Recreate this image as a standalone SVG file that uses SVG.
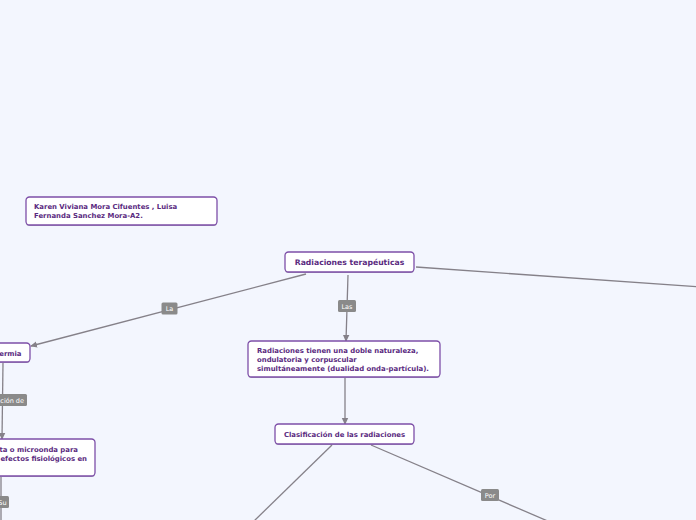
<svg xmlns="http://www.w3.org/2000/svg" width="696" height="520" viewBox="0 0 696 520">
<defs>
<marker id="arr" markerWidth="8" markerHeight="8" refX="6" refY="4" orient="auto" markerUnits="userSpaceOnUse"><path d="M0,0.8 L7,4 L0,7.2 Z" fill="#858189"/></marker>
</defs>
<style>
.bg{fill:#f3f6fe}
.box{fill:#ffffff;stroke:#7d4fa8;stroke-width:1.3}
.sh{fill:#5d4a6e;opacity:0.45}
.t{font-family:"DejaVu Sans",Verdana,sans-serif;font-weight:bold;font-size:6.9px;fill:#5a2a80}
.tr{font-family:"DejaVu Sans",Verdana,sans-serif;font-weight:bold;font-size:7.7px;fill:#5a2a80}
.ln{stroke:#858189;stroke-width:1.3;fill:none}
.lb{fill:#8a8a8a}
.lt{font-family:"DejaVu Sans",Verdana,sans-serif;font-size:6.5px;fill:#ffffff}
</style>
<rect class="bg" x="0" y="0" width="696" height="520"/>
<g id="connectors">
<path class="ln" d="M306,274 L31,346" marker-end="url(#arr)"/>
<path class="ln" d="M348,275 L346,341" marker-end="url(#arr)"/>
<path class="ln" d="M416,267 L700,287"/>
<path class="ln" d="M345,378 L345,424" marker-end="url(#arr)"/>
<path class="ln" d="M3,363 L2,439" marker-end="url(#arr)"/>
<path class="ln" d="M1,477 L1,520"/>
<path class="ln" d="M332,445 L253,522"/>
<path class="ln" d="M371,445 L550,522"/>
<rect class="lb" x="161.5" y="302.5" width="16" height="12" rx="1.5"/>
<text class="lt" x="169.5" y="311" text-anchor="middle">La</text>
<rect class="lb" x="338" y="300" width="18" height="12" rx="1.5"/>
<text class="lt" x="347" y="308.5" text-anchor="middle">Las</text>
<rect class="lb" x="-20" y="394" width="47" height="12" rx="1.5"/>
<text class="lt" x="24" y="402.5" text-anchor="end">Aplicación de</text>
<rect class="lb" x="-10" y="496" width="19" height="12" rx="1.5"/>
<text class="lt" x="6.5" y="504.5" text-anchor="end">Su</text>
<rect class="lb" x="481" y="489" width="18" height="12" rx="1.5"/>
<text class="lt" x="490" y="497.5" text-anchor="middle">Por</text>
</g>
<g id="autores">
<rect class="sh" x="26" y="198" width="191" height="28" rx="3.5"/>
<rect class="box" x="26" y="197" width="191" height="28" rx="3.5"/>
<text class="t" x="34" y="208.5">Karen Viviana Mora Cifuentes , Luisa</text>
<text class="t" x="34" y="217.5">Fernanda Sanchez Mora-A2.</text>
</g>
<g id="raiz">
<rect class="sh" x="285" y="253" width="129" height="20" rx="3.5"/>
<rect class="box" x="285" y="252" width="129" height="20" rx="3.5"/>
<text class="tr" x="349.5" y="265" text-anchor="middle">Radiaciones terapéuticas</text>
</g>
<g id="dualidad">
<rect class="sh" x="248" y="342" width="192" height="36" rx="3.5"/>
<rect class="box" x="248" y="341" width="192" height="36" rx="3.5"/>
<text class="t" x="257" y="352.5">Radiaciones tienen una doble naturaleza,</text>
<text class="t" x="257" y="361.5">ondulatoria y corpuscular</text>
<text class="t" x="257" y="370.5">simultáneamente (dualidad onda-partícula).</text>
</g>
<g id="clasificacion">
<rect class="sh" x="275" y="425" width="139" height="20" rx="3.5"/>
<rect class="box" x="275" y="424" width="139" height="20" rx="3.5"/>
<text class="t" x="344.5" y="437" text-anchor="middle">Clasificación de las radiaciones</text>
</g>
<g id="diatermia">
<rect class="sh" x="-20" y="344" width="50" height="19" rx="3.5"/>
<rect class="box" x="-20" y="343" width="50" height="19" rx="3.5"/>
<text class="t" x="21.5" y="355.5" text-anchor="end">Diatermia</text>
</g>
<g id="aplicacion">
<rect class="sh" x="-60" y="440" width="155" height="37" rx="3.5"/>
<rect class="box" x="-60" y="439" width="155" height="37" rx="3.5"/>
<text class="t" x="78" y="452" text-anchor="end">corta o microonda para</text>
<text class="t" x="87" y="461" text-anchor="end">producir efectos fisiológicos en</text>
</g>
</svg>
